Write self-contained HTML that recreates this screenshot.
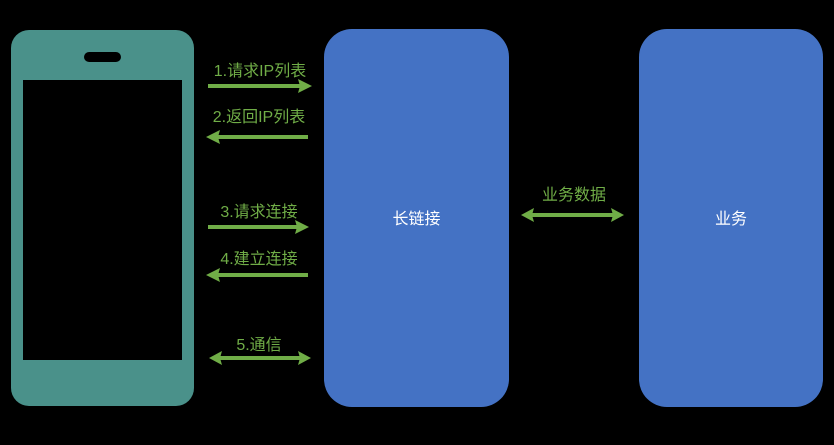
<!DOCTYPE html>
<html><head><meta charset="utf-8"><style>
html,body{margin:0;padding:0;background:#000;}
svg{display:block}
text{font-family:"Liberation Sans","Noto Sans CJK SC",sans-serif;}
</style></head><body>
<svg width="834" height="445" viewBox="0 0 834 445" xmlns="http://www.w3.org/2000/svg">
<rect width="834" height="445" fill="#000"/>
<rect x="11" y="30" width="183" height="376" rx="18" fill="#4a918a"/>
<rect x="23" y="80" width="159" height="280" fill="#000"/>
<rect x="84" y="52" width="37" height="10" rx="5" fill="#000"/>
<rect x="324" y="29" width="185" height="378" rx="28" fill="#4472c4"/>
<rect x="639" y="29" width="184" height="378" rx="28" fill="#4472c4"/>
<text x="416.5" y="224" fill="#fff" font-size="16" text-anchor="middle">长链接</text>
<text x="731" y="224" fill="#fff" font-size="16" text-anchor="middle">业务</text>
<g stroke="#70ad47" stroke-width="4">
<line x1="208" y1="86" x2="300" y2="86"/>
<line x1="308" y1="137" x2="218" y2="137"/>
<line x1="208" y1="227" x2="298" y2="227"/>
<line x1="308" y1="275" x2="218" y2="275"/>
<line x1="220" y1="358" x2="300" y2="358"/>
<line x1="532" y1="215" x2="613" y2="215"/>
</g>
<g fill="#70ad47">
<polygon points="312,86 298,79 300,86 298,93"/>
<polygon points="206,137 220,130 218,137 220,144"/>
<polygon points="309,227 295,220 297,227 295,234"/>
<polygon points="206,275 220,268 218,275 220,282"/>
<polygon points="209,358 222,351 220,358 222,365"/>
<polygon points="311,358 298,351 300,358 298,365"/>
<polygon points="521,215 534,208 532,215 534,222"/>
<polygon points="624,215 611,208 613,215 611,222"/>
</g>
<g fill="#70ad47" font-size="16" text-anchor="middle">
<text x="260" y="76">1.请求IP列表</text>
<text x="259" y="122">2.返回IP列表</text>
<text x="259" y="217">3.请求连接</text>
<text x="259" y="264">4.建立连接</text>
<text x="259" y="350">5.通信</text>
<text x="574" y="200">业务数据</text>
</g>
</svg>
</body></html>
